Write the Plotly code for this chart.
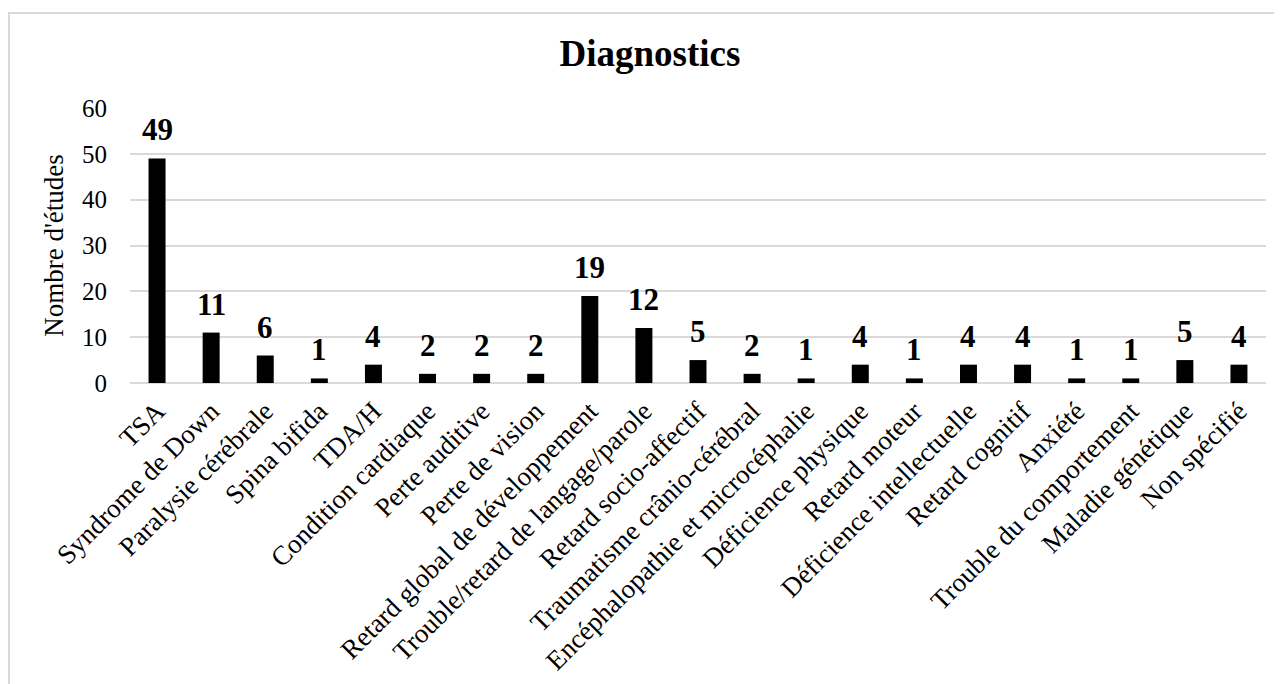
import plotly.graph_objects as go

categories = [
    "TSA", "Syndrome de Down", "Paralysie cérébrale", "Spina bifida", "TDA/H",
    "Condition cardiaque", "Perte auditive", "Perte de vision",
    "Retard global de développement", "Trouble/retard de langage/parole",
    "Retard socio-affectif", "Traumatisme crânio-cérébral",
    "Encéphalopathie et microcéphalie", "Déficience physique", "Retard moteur",
    "Déficience intellectuelle", "Retard cognitif", "Anxiété",
    "Trouble du comportement", "Maladie génétique", "Non spécifié",
]
values = [49, 11, 6, 1, 4, 2, 2, 2, 19, 12, 5, 2, 1, 4, 1, 4, 4, 1, 1, 5, 4]
y_ticks = [0, 10, 20, 30, 40, 50, 60]

FONT = "Liberation Serif, Times New Roman, serif"

fig = go.Figure()
fig.add_trace(go.Bar(
    x=categories, y=values,
    marker=dict(color="#000000", line=dict(width=0)),
    cliponaxis=False,
))

annotations = [
    dict(x=c, y=v, xref="x", yref="y", text=f"<b>{v}</b>", showarrow=False,
         yanchor="bottom", yshift=9,
         font=dict(family=FONT, size=31, color="#000000"))
    for c, v in zip(categories, values)
]

fig.update_layout(
    width=1282, height=684,
    margin=dict(l=122, r=24, t=100, b=309),
    paper_bgcolor="white", plot_bgcolor="white",
    showlegend=False,
    bargap=0.686,
    font=dict(family=FONT, color="#000000"),
    title=dict(text="<b>Diagnostics</b>", x=642 / 1282, xanchor="center",
               y=1 - 45 / 684, yanchor="middle", yref="container",
               font=dict(family=FONT, size=37, color="#000000")),
    xaxis=dict(
        tickangle=-45, tickfont=dict(family=FONT, size=27, color="#000000"),
        showgrid=False, showline=False, ticks="", automargin=False,
        ticklabelstandoff=6,
    ),
    yaxis=dict(
        range=[0, 60], tickvals=y_ticks, ticktext=[str(t) for t in y_ticks],
        tickfont=dict(family=FONT, size=25, color="#000000"),
        showgrid=True, gridcolor="#d9d9d9", gridwidth=1.5,
        zeroline=True, zerolinecolor="#d9d9d9", zerolinewidth=1.5,
        showline=False, ticks="", ticklabelstandoff=22, automargin=False,
        title=dict(text="Nombre d'études", font=dict(family=FONT, size=27, color="#000000"),
                   standoff=10),
    ),
    annotations=annotations,
    shapes=[dict(type="rect", xref="paper", yref="paper",
                 x0=(1 - 122) / 1136, x1=1.3, y0=-1.5, y1=1 + (100 - 5) / 275,
                 line=dict(color="#d9d9d9", width=2), fillcolor="rgba(0,0,0,0)",
                 layer="below")],
)

fig.write_html("out.html")
